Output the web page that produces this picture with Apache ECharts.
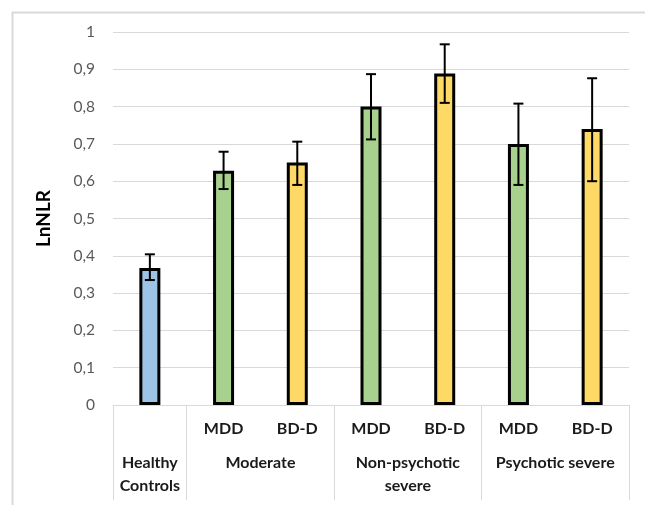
<!DOCTYPE html>
<html>
<head>
<meta charset="utf-8">
<script src="https://cdn.jsdelivr.net/npm/echarts@6/dist/echarts.min.js"></script>
<style>html,body{margin:0;padding:0;background:#fff}#chart{width:645px;height:505px}</style>
</head>
<body>
<div id="chart"></div>
<script>
var myChart = echarts.init(document.getElementById('chart'));

// categories (top level) and groups (bottom level)
var categories = ['', 'MDD', 'BD-D', 'MDD', 'BD-D', 'MDD', 'BD-D'];
var groupNames = ['Healthy\nControls', 'Moderate', 'Non-psychotic\nsevere', 'Psychotic severe'];
var groupCenters = [0.5, 2, 4, 6];
var groupSeparators = [0, 1, 3, 5, 7];

// values and error bars
var values = [0.367, 0.628, 0.65, 0.80, 0.889, 0.70, 0.74];
var errLow = [0.335, 0.579, 0.59, 0.712, 0.81, 0.59, 0.60];
var errHigh = [0.404, 0.679, 0.706, 0.887, 0.967, 0.808, 0.876];
var barColors = ['#9DC3E6', '#A9D18E', '#FFD966', '#A9D18E', '#FFD966', '#A9D18E', '#FFD966'];

var font = 'Lato, "Noto Sans", sans-serif';

var errData = [];
for (let i = 0; i < values.length; i++) {
    errData.push([i, errLow[i], errHigh[i]]);
}

var option = {
    animation: false,
    textStyle: {fontFamily: font},
    graphic: [{
        type: 'rect',
        left: 10,
        top: 10,
        shape: {width: 660, height: 520},
        style: {fill: 'none', stroke: '#d9d9d9', lineWidth: 2}
    }],
    grid: {left: 113, right: 16, top: 32, bottom: 100},
    xAxis: [{
        type: 'category',
        data: categories,
        axisLine: {lineStyle: {color: '#d9d9d9', width: 1}},
        axisTick: {show: false},
        axisLabel: {
            margin: 16,
            fontSize: 16,
            fontWeight: 'bold',
            color: '#1a1a1a',
            interval: 0,
            fontFamily: font
        }
    }, {
        type: 'value',
        position: 'bottom',
        min: 0,
        max: 7,
        axisLine: {show: false},
        splitLine: {show: false},
        axisTick: {
            show: true,
            customValues: groupSeparators,
            length: 95,
            lineStyle: {color: '#d9d9d9', width: 1}
        },
        axisLabel: {
            customValues: groupCenters,
            margin: 46,
            fontSize: 16,
            fontWeight: 'bold',
            color: '#1a1a1a',
            lineHeight: 23,
            verticalAlign: 'top',
            fontFamily: font,
            formatter: function (v) {
                var idx = groupCenters.indexOf(v);
                return idx >= 0 ? groupNames[idx] : '';
            }
        }
    }],
    yAxis: {
        type: 'value',
        min: 0,
        max: 1,
        interval: 0.1,
        name: 'LnNLR',
        nameLocation: 'middle',
        nameGap: 60,
        nameTextStyle: {fontSize: 19, fontWeight: 'bold', color: '#000', fontFamily: font},
        axisLine: {show: false},
        axisTick: {show: false},
        splitLine: {lineStyle: {color: '#d9d9d9', width: 1}},
        axisLabel: {
            margin: 18,
            fontSize: 15.5,
            color: '#595959',
            fontFamily: font,
            formatter: function (v) {
                return String(Math.round(v * 10) / 10).replace('.', ',');
            }
        }
    },
    series: [{
        type: 'bar',
        data: values,
        barWidth: 21,
        itemStyle: {
            color: function (p) { return barColors[p.dataIndex]; },
            borderColor: '#000',
            borderWidth: 3
        }
    }, {
        type: 'custom',
        data: errData,
        z: 10,
        renderItem: function (params, api) {
            var x = api.value(0);
            var lo = api.coord([x, api.value(1)]);
            var hi = api.coord([x, api.value(2)]);
            var cap = 5;
            var style = {stroke: '#000', lineWidth: 2};
            return {
                type: 'group',
                children: [
                    {type: 'line', shape: {x1: lo[0], y1: lo[1], x2: hi[0], y2: hi[1]}, style: style},
                    {type: 'line', shape: {x1: hi[0] - cap, y1: hi[1], x2: hi[0] + cap, y2: hi[1]}, style: style},
                    {type: 'line', shape: {x1: lo[0] - cap, y1: lo[1], x2: lo[0] + cap, y2: lo[1]}, style: style}
                ]
            };
        }
    }]
};

myChart.setOption(option);
</script>
</body>
</html>
